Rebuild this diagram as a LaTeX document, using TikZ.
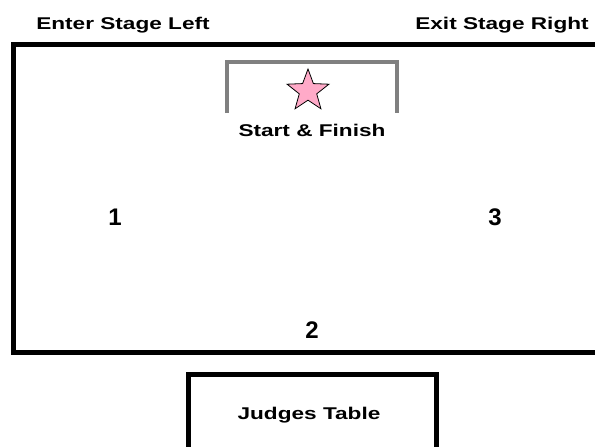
\documentclass[tikz,border=0pt]{standalone}
\usepackage{fontspec}
\setmainfont{Liberation Sans}
\newfontfamily\widefont[FakeStretch=1.33]{Liberation Sans}
\usetikzlibrary{shapes.geometric}
\definecolor{starpink}{RGB}{255,170,200}
\definecolor{bracketgray}{RGB}{128,128,128}
\tikzset{
  lbl/.style={font=\widefont\bfseries\fontsize{17}{19}\selectfont, inner sep=0pt, anchor=base},
  num/.style={font=\bfseries\fontsize{24}{26}\selectfont, inner sep=0pt, anchor=base},
  heavy/.style={draw=black, line width=5pt},
}
\begin{document}
\begin{tikzpicture}[x=1pt,y=-1pt]
\useasboundingbox (0,0) rectangle (595,447);
% stage
\draw[heavy] (600,44) -- (13.5,44) -- (13.5,352) -- (600,352);
% judges table
\draw[heavy] (188,450) -- (188,374) -- (436,374) -- (436,450);
% bracket
\draw[bracketgray, line width=4pt] (227,113) -- (227,62) -- (397,62) -- (397,113);
% star
\node[star, star points=5, star point ratio=2.4, minimum size=44pt, inner sep=0pt, draw=black, line width=0.8pt, fill=starpink] (star) at (308,91) {};
% labels
\node[lbl] (enter) at (123,29) {Enter Stage Left};
\node[lbl] (exit) at (502,29) {Exit Stage Right};
\node[lbl] (sf) at (312,136) {Start \& Finish};
\node[lbl] (judges) at (309,419) {Judges Table};
\node[num] (n1) at (115,225) {1};
\node[num] (n3) at (495,225) {3};
\node[num] (n2) at (312,338) {2};
\end{tikzpicture}
\end{document}
